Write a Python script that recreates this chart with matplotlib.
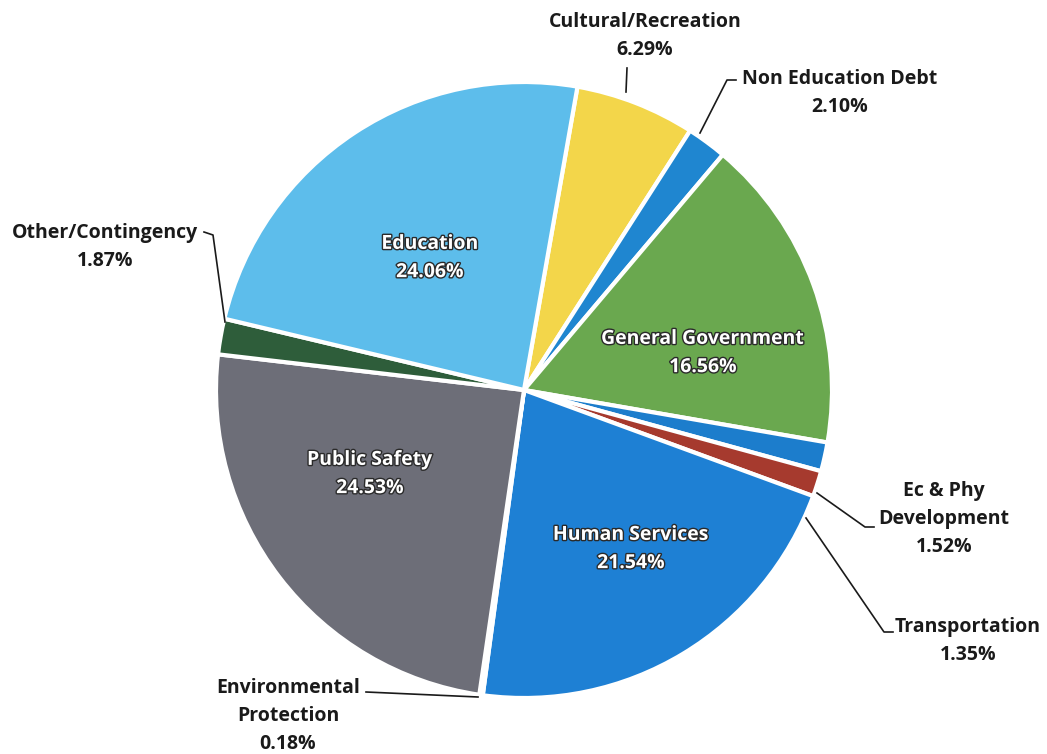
import matplotlib.pyplot as plt
import matplotlib.patheffects as pe

plt.rcParams['font.family'] = ['Open Sans', 'DejaVu Sans']

# budget shares, clockwise from the top
categories = ['Cultural/Recreation', 'Non Education Debt', 'General Government',
              'Ec & Phy\nDevelopment', 'Transportation', 'Human Services',
              'Environmental\nProtection', 'Public Safety', 'Other/Contingency',
              'Education']
shares = [6.29, 2.10, 16.56, 1.52, 1.35, 21.54, 0.18, 24.53, 1.87, 24.06]
colors = ['#F3D64A', '#1F86D0', '#6AA84F', '#1C7DCC', '#A63A2E', '#1E80D4',
          '#2B2B2B', '#6D6E78', '#2E5D3A', '#5DBDEB']

# labels drawn inside the slice (white, outlined) or outside with a leader line
inside = {'General Government': (703, 353), 'Human Services': (631, 549),
          'Public Safety': (370, 474), 'Education': (430, 258)}
outside = {
    'Cultural/Recreation': ((645, 36), [(627, 68), (626, 92)]),
    'Non Education Debt': ((840, 93), [(736, 80), (727, 80), (700, 133)]),
    'Ec & Phy\nDevelopment': ((944, 519), [(817, 493), (865, 527), (874, 527)]),
    'Transportation': ((968, 641), [(806, 518), (884, 632), (893, 632)]),
    'Environmental\nProtection': ((288, 716), [(366, 692), (478, 697)]),
    'Other/Contingency': ((105, 247), [(204, 232), (213, 235), (225, 322)]),
}

fig = plt.figure(figsize=(10.47, 7.54), dpi=100)
ax = fig.add_axes([0, 0, 1, 1])

ax.pie(shares, colors=colors, center=(524, 390), radius=308,
       startangle=-80, counterclock=True, frame=True,
       wedgeprops=dict(edgecolor='white', linewidth=3))
ax.set_xlim(0, 1047)
ax.set_ylim(754, 0)
ax.set_aspect('equal')
ax.axis('off')

for name, val in zip(categories, shares):
    text = f'{name}\n{val:.2f}%'
    if name in inside:
        x, y = inside[name]
        ax.text(x, y, text, ha='center', va='center', fontsize=14,
                fontweight='bold', color='white', linespacing=1.55,
                path_effects=[pe.withStroke(linewidth=2.0, foreground='#2a2a2a')])
    else:
        (x, y), line = outside[name]
        ax.text(x, y, text, ha='center', va='center', fontsize=14,
                fontweight='bold', color='#1a1a1a', linespacing=1.55)
        xs, ys = zip(*line)
        ax.plot(xs, ys, color='#1a1a1a', lw=1.2)

fig.savefig('out.png', dpi=100, facecolor='white')
